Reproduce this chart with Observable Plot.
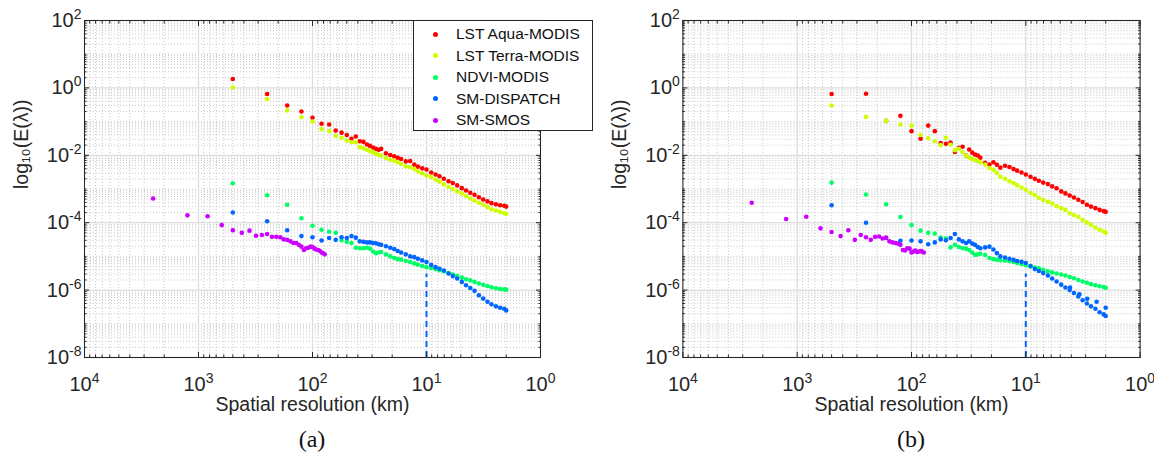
<!DOCTYPE html>
<html><head><meta charset="utf-8">
<script src="https://cdn.jsdelivr.net/npm/d3@7"></script>
<script src="https://cdn.jsdelivr.net/npm/@observablehq/plot@0.6"></script>
<style>
body{margin:0;background:#fff;}
#wrap{position:relative;width:1154px;height:454px;overflow:hidden;font-family:"Liberation Sans",Arial,sans-serif;color:#262626;}
.panel{position:absolute;top:0;}
.cap{position:absolute;top:425px;width:60px;margin-left:-30px;text-align:center;font-family:"Liberation Serif","Times New Roman",serif;font-size:24px;line-height:28px;color:#111;}
#legend{position:absolute;left:413px;top:19.5px;width:180px;height:111px;box-sizing:border-box;border:1px solid #262626;background:#fff;}
.lrow{position:absolute;left:0;height:20px;line-height:20px;font-size:15.5px;color:#111;white-space:nowrap;}
.ldot{position:absolute;left:18.5px;top:7.5px;width:5px;height:5px;border-radius:50%;}
.ltxt{position:absolute;left:42px;top:0;}
</style></head>
<body><div id="wrap"></div>
<script>
// ---------- data ----------
// spatial resolution (km) of the MODIS / DISPATCH samples
const res = [500,250,166.7,125,100,83.3,71.4,62.5,55.6,50,45.5,41.7,38.5,35.7,33.3,31.3,29.4,27.8,26.3,25,
  22.7,20.8,19.2,17.9,16.7,15.2,13.9,12.8,11.9,10.9,10,9.09,8.33,7.69,7.04,6.41,5.88,5.38,4.90,4.50,
  4.13,3.79,3.47,3.18,2.92,2.69,2.46,2.26,2.08,2.0];
// spatial resolution (km) of the SMOS samples
const smosRes = [2500,1250,833,625,500,417,357,313,278,250,227,208,192,179,167,156,147,139,132,125,119,114,109,104,100,96,93,89,86,83,81,78];

// panel (a)
const lstAquaA = [1.83,0.66,0.30,0.20,0.13,0.086,0.082,0.054,0.047,0.040,0.031,0.036,0.026,0.025,0.021,0.019,0.017,0.0155,0.0145,0.0155,
  0.0115,0.0102,0.0094,0.0085,0.0078,0.0066,0.0068,0.0053,0.0046,0.0041,0.0038,0.0031,0.0027,0.0024,0.0020,0.0017,0.0015,0.00128,0.00106,0.0009,
  0.00077,0.00067,0.00057,0.00049,0.00043,0.00038,0.00035,0.00033,0.00032,0.0003];
const lstTerraA = [1.03,0.47,0.216,0.135,0.10,0.060,0.052,0.038,0.033,0.0275,0.0245,0.0245,0.0175,0.016,0.0146,0.0133,0.0122,0.0112,0.0104,0.0098,
  0.0083,0.0074,0.0069,0.0062,0.0055,0.0047,0.0044,0.0039,0.0033,0.0029,0.0025,0.00226,0.0019,0.00165,0.00137,0.00117,0.001,0.00085,0.00073,0.00062,
  0.00052,0.00045,0.00039,0.00034,0.00029,0.00025,0.00023,0.00021,0.00019,0.000185];
const ndviA = [0.00148,0.00065,0.00034,0.000135,8.1e-5,6.2e-5,5.4e-5,5.0e-5,3.0e-5,2.7e-5,2.5e-5,1.8e-5,1.75e-5,1.75e-5,1.8e-5,1.7e-5,1.4e-5,1.25e-5,1.3e-5,1.35e-5,
  1.15e-5,1.0e-5,9.0e-6,8.3e-6,8.0e-6,7.3e-6,6.8e-6,6.2e-6,5.7e-6,5.2e-6,4.8e-6,4.5e-6,4.2e-6,3.9e-6,3.6e-6,3.2e-6,2.9e-6,2.6e-6,2.35e-6,2.1e-6,
  1.95e-6,1.75e-6,1.57e-6,1.43e-6,1.33e-6,1.22e-6,1.13e-6,1.08e-6,1.05e-6,1.03e-6];
const dispatchA = [2.0e-4,1.1e-4,6.0e-5,4.0e-5,3.7e-5,2.95e-5,3.5e-5,3.1e-5,3.7e-5,3.5e-5,4.0e-5,3.6e-5,2.8e-5,2.7e-5,2.6e-5,2.6e-5,2.5e-5,2.45e-5,2.3e-5,2.2e-5,
  2.0e-5,1.8e-5,1.65e-5,1.45e-5,1.3e-5,1.15e-5,1.0e-5,9.5e-6,8.5e-6,7.6e-6,6.8e-6,5.6e-6,4.8e-6,4.3e-6,3.8e-6,3.1e-6,2.6e-6,2.2e-6,1.75e-6,1.4e-6,
  1.15e-6,9.5e-7,7.0e-7,5.6e-7,4.5e-7,3.8e-7,3.3e-7,3.0e-7,2.8e-7,2.5e-7];
const smosA = [5.2e-4,1.65e-4,1.55e-4,8.5e-5,6.0e-5,5.0e-5,5.8e-5,4.1e-5,4.3e-5,4.6e-5,3.8e-5,3.8e-5,3.7e-5,3.2e-5,3.1e-5,2.8e-5,
  2.5e-5,2.5e-5,2.2e-5,1.95e-5,1.55e-5,1.75e-5,1.8e-5,1.95e-5,1.9e-5,1.7e-5,1.6e-5,1.55e-5,1.45e-5,1.3e-5,1.25e-5,1.15e-5];

// panel (b)
const lstAquaB = [0.66,0.67,0.105,0.148,0.052,0.031,0.076,0.052,0.023,0.022,0.024,0.0125,0.0168,0.018,0.0099,0.0148,0.012,0.0105,0.0099,0.0085,
  0.006,0.0053,0.0062,0.0052,0.0043,0.0049,0.0045,0.0039,0.0035,0.0031,0.0027,0.0023,0.0020,0.00175,0.00155,0.0014,0.0012,0.00105,0.00085,0.00074,
  0.00064,0.00056,0.00048,0.00041,0.00034,0.0003,0.00027,0.00024,0.00022,0.00021];
const lstTerraB = [0.30,0.138,0.105,0.082,0.076,0.040,0.032,0.026,0.020,0.033,0.0206,0.0142,0.0156,0.0125,0.0099,0.0085,0.0078,0.0072,0.0068,0.0062,
  0.0053,0.0042,0.0037,0.0030,0.0023,0.0020,0.0017,0.0015,0.0013,0.0011,0.00095,0.00076,0.00066,0.00055,0.00047,0.00042,0.00037,0.00031,0.00027,0.00024,
  0.00019,0.00017,0.00015,0.00012,0.000102,0.000086,0.000072,0.000062,0.000055,0.00005];
const ndviB = [0.00155,0.00069,0.00035,0.000147,8.5e-5,5.8e-5,5.0e-5,4.8e-5,3.6e-5,3.4e-5,1.85e-5,2.2e-5,1.9e-5,1.75e-5,1.7e-5,1.55e-5,1.3e-5,1.1e-5,1.15e-5,1.2e-5,
  1.1e-5,9.0e-6,8.3e-6,8.0e-6,7.7e-6,7.5e-6,7.2e-6,6.9e-6,6.4e-6,5.9e-6,5.5e-6,5.0e-6,4.7e-6,4.4e-6,4.0e-6,3.6e-6,3.35e-6,3.1e-6,2.9e-6,2.7e-6,
  2.45e-6,2.25e-6,2.0e-6,1.8e-6,1.65e-6,1.5e-6,1.4e-6,1.3e-6,1.23e-6,1.18e-6];
const dispatchB = [3.3e-4,1.0e-4,3.5e-5,2.9e-5,2.95e-5,2.8e-5,2.3e-5,2.6e-5,3.2e-5,3.0e-5,3.5e-5,4.6e-5,3.2e-5,2.8e-5,2.5e-5,2.8e-5,2.4e-5,2.2e-5,1.9e-5,1.75e-5,
  1.85e-5,1.95e-5,1.6e-5,1.25e-5,1.0e-5,9.3e-6,8.5e-6,7.9e-6,7.3e-6,6.9e-6,6.4e-6,5.2e-6,4.2e-6,3.7e-6,3.2e-6,2.7e-6,2.2e-6,1.8e-6,1.45e-6,1.2e-6,
  1.0e-6,8.2e-7,6.5e-7,5.0e-7,4.0e-7,3.3e-7,2.8e-7,2.2e-7,1.9e-7,1.7e-7];
const dispatchBExtraRes = [4.1,3.4,2.9,2.4,2.0];
const dispatchBExtraE = [1.2e-6,7.5e-7,5.5e-7,4.5e-7,3.0e-7];
const smosB = [3.9e-4,1.29e-4,1.5e-4,6.8e-5,5.3e-5,4.0e-5,6.0e-5,3.1e-5,4.3e-5,3.7e-5,3.1e-5,3.8e-5,3.9e-5,3.4e-5,3.6e-5,2.8e-5,
  2.6e-5,2.5e-5,2.4e-5,2.2e-5,1.55e-5,1.5e-5,1.75e-5,1.7e-5,1.3e-5,1.4e-5,1.5e-5,1.35e-5,1.4e-5,1.45e-5,1.4e-5,1.3e-5];

const seriesNames = ["LST Aqua-MODIS","LST Terra-MODIS","NDVI-MODIS","SM-DISPATCH","SM-SMOS"];
const seriesColors = ["#ff0000","#ccff00","#00ff66","#0066ff","#cc00ff"];
const cutoffRes = [10];
const cutoffTop = 3e-6;
const xTicks = [1e4,1e3,1e2,1e1,1e0];
const yTicks = [1e2,1e0,1e-2,1e-4,1e-6,1e-8];
const xLabel = "Spatial resolution (km)";
const yLabel = "log\u2081\u2080(E(\u03bb))";
const captions = ["(a)","(b)"];

// minor tick / grid positions of the log axes
const minorX = [];
for (let d = 0; d <= 3; d++) for (let m = 2; m <= 9; m++) minorX.push(m * Math.pow(10, d));
const minorY = [];
for (let d = -8; d <= 1; d++) for (let m = 1; m <= 9; m++) {
  if (m === 1 && d % 2 === 0) continue;
  minorY.push(m * Math.pow(10, d));
}

function rows(xs, ys) { return xs.map((x, i) => ({res: x, E: ys[i]})); }

const panelA = [
  rows(res, lstAquaA), rows(res, lstTerraA), rows(res, ndviA), rows(res, dispatchA), rows(smosRes, smosA)
];
const panelB = [
  rows(res, lstAquaB), rows(res, lstTerraB), rows(res, ndviB),
  rows(res, dispatchB).concat(rows(dispatchBExtraRes, dispatchBExtraE)), rows(smosRes, smosB)
];

const fmt = d => "10^" + Math.round(Math.log10(d));
const ink = "#262626";

function makePanel(series, width, marginLeft, marginRight) {
  const svg = Plot.plot({
    width, height: 454, marginLeft, marginRight, marginTop: 20, marginBottom: 97,
    x: {type: "log", domain: [1e4, 1], axis: null},
    y: {type: "log", domain: [1e-8, 1e2], axis: null},
    style: {fontFamily: '"Liberation Sans", Arial, sans-serif', color: ink, background: "transparent", overflow: "visible"},
    marks: [
      Plot.ruleX(minorX, {stroke: "#bdbdbd", strokeWidth: 0.8, strokeDasharray: "1,2"}),
      Plot.ruleY(minorY, {stroke: "#bdbdbd", strokeWidth: 0.8, strokeDasharray: "1,2"}),
      Plot.ruleX(xTicks, {stroke: "#dedede", strokeWidth: 1.3}),
      Plot.ruleY(yTicks, {stroke: "#dedede", strokeWidth: 1.3}),
      ...series.map((s, i) => Plot.dot(s, {x: "res", y: "E", r: 2.3, fill: seriesColors[i], stroke: "none"})),
      Plot.ruleX(cutoffRes, {y1: 1e-8, y2: cutoffTop, stroke: seriesColors[3], strokeWidth: 2, strokeDasharray: "6,4"}),
      Plot.frame({stroke: ink}),
      Plot.axisX(xTicks, {anchor: "bottom", tickSize: -5, fill: "none", stroke: ink}),
      Plot.axisX(xTicks, {anchor: "top", tickSize: -5, fill: "none", stroke: ink}),
      Plot.axisX(minorX, {anchor: "bottom", tickSize: -2.5, fill: "none", stroke: ink}),
      Plot.axisX(minorX, {anchor: "top", tickSize: -2.5, fill: "none", stroke: ink}),
      Plot.axisY(yTicks, {anchor: "left", tickSize: -5, fill: "none", stroke: ink}),
      Plot.axisY(yTicks, {anchor: "right", tickSize: -5, fill: "none", stroke: ink}),
      Plot.axisY(minorY, {anchor: "left", tickSize: -2.5, fill: "none", stroke: ink}),
      Plot.axisY(minorY, {anchor: "right", tickSize: -2.5, fill: "none", stroke: ink}),
      Plot.axisX(xTicks, {anchor: "bottom", tickSize: 0, tickPadding: 19, tickFormat: fmt, fontSize: 20, fill: ink, label: null}),
      Plot.axisY(yTicks, {anchor: "left", tickSize: 0, tickPadding: 3, tickFormat: fmt, fontSize: 20, fill: ink, label: null}),
      Plot.text([xLabel], {frameAnchor: "bottom", dy: 53, fontSize: 19.5, fill: ink}),
      Plot.text([yLabel], {frameAnchor: "left", dx: -63, rotate: -90, fontSize: 19.5, fill: ink})
    ]
  });
  // turn "10^k" tick labels into 10 with a superscript exponent
  svg.querySelectorAll('g[aria-label="x-axis tick label"] text, g[aria-label="y-axis tick label"] text').forEach(t => {
    const s = t.textContent;
    if (!s.includes("^")) return;
    const [base, exp] = s.split("^");
    t.textContent = "";
    const ns = "http://www.w3.org/2000/svg";
    const a = document.createElementNS(ns, "tspan"); a.textContent = base;
    const b = document.createElementNS(ns, "tspan"); b.textContent = exp;
    b.setAttribute("dy", "-8"); b.setAttribute("font-size", "14");
    t.appendChild(a); t.appendChild(b);
  });
  return svg;
}

const wrap = document.getElementById("wrap");
const svgA = makePanel(panelA, 600, 84, 60);
svgA.classList.add("panel"); svgA.style.left = "0px";
const svgB = makePanel(panelB, 554, 82.4, 14.4);
svgB.classList.add("panel"); svgB.style.left = "600px";
wrap.appendChild(svgA); wrap.appendChild(svgB);

// legend (panel a)
const legend = document.createElement("div");
legend.id = "legend";
seriesNames.forEach((name, i) => {
  const row = document.createElement("div");
  row.className = "lrow";
  row.style.top = (3.8 + i * 21.5) + "px";
  row.style.width = "100%";
  const dot = document.createElement("span"); dot.className = "ldot"; dot.style.background = seriesColors[i];
  const txt = document.createElement("span"); txt.className = "ltxt"; txt.textContent = name;
  row.appendChild(dot); row.appendChild(txt);
  legend.appendChild(row);
});
wrap.appendChild(legend);

// captions
[312, 911].forEach((cx, i) => {
  const c = document.createElement("div");
  c.className = "cap"; c.style.left = cx + "px"; c.textContent = captions[i];
  wrap.appendChild(c);
});
</script></body></html>
